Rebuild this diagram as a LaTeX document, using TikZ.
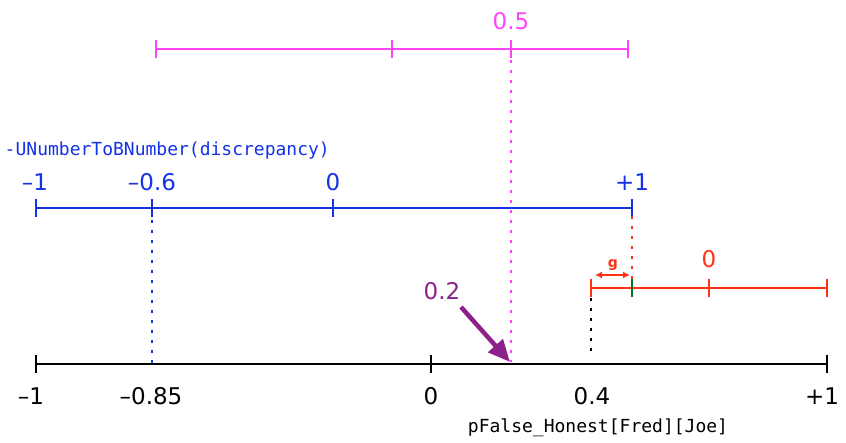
\documentclass[tikz,border=0pt]{standalone}
\usepackage{fontspec}
\setmainfont{DejaVu Sans}
\setmonofont{DejaVu Sans Mono}
\usetikzlibrary{arrows.meta}
\definecolor{axblue}{RGB}{20,50,230}
\definecolor{axmag}{RGB}{255,68,255}
\definecolor{axred}{RGB}{255,50,20}
\definecolor{axgreen}{RGB}{0,120,20}
\definecolor{axpurple}{RGB}{140,34,137}
\begin{document}
\begin{tikzpicture}[x=1pt,y=-1pt, line width=1.5pt,
  num/.style={anchor=base, inner sep=0pt, font=\fontsize{23}{23}\selectfont},
  mono/.style={anchor=base west, inner sep=0pt, font=\ttfamily\fontsize{18}{18}\selectfont},
  dots/.style={line width=2pt, dash pattern=on 3.5pt off 6.5pt}]
\useasboundingbox (0,0) rectangle (846,443);
% black axis
\coordinate (k0) at (36,364); \coordinate (k1) at (827,364);
\draw (k0) -- (k1);
\foreach \x in {36,431,827} \draw (\x,355) -- (\x,373);
\node[num] (kl1) at (31,405) {–1};
\node[num] (kl2) at (151,405) {–0.85};
\node[num] (kl3) at (431,405) {0};
\node[num] (kl4) at (592,405) {0.4};
\node[num] (kl5) at (822,405) {+1};
\node[mono, anchor=base] (kname) at (598,432) {pFalse\_Honest[Fred][Joe]};
% blue axis
\coordinate (b0) at (36,208); \coordinate (b1) at (632,208);
\draw[axblue] (b0) -- (b1);
\foreach \x in {36,152,333,632} \draw[axblue] (\x,199) -- (\x,217);
\node[num, text=axblue] (bl1) at (35,191) {–1};
\node[num, text=axblue] (bl2) at (152,191) {–0.6};
\node[num, text=axblue] (bl3) at (333,191) {0};
\node[num, text=axblue] (bl4) at (632,191) {+1};
\node[mono, text=axblue] (bname) at (4,156) {-UNumberToBNumber(discrepancy)};
\coordinate (bd0) at (152,220); \coordinate (bd1) at (152,364);
\draw[dots, axblue] (bd0) -- (bd1);
% magenta axis
\coordinate (m0) at (156,49); \coordinate (m1) at (628,49);
\draw[axmag] (m0) -- (m1);
\foreach \x in {156,392,511,628} \draw[axmag] (\x,40) -- (\x,58);
\node[num, text=axmag] (ml) at (511,30) {0.5};
\coordinate (md0) at (511,60); \coordinate (md1) at (511,362);
\draw[dots, axmag] (md0) -- (md1);
% red axis
\coordinate (r0) at (591,288); \coordinate (r1) at (827,288);
\draw[axred] (r0) -- (r1);
\foreach \x in {591,709,827} \draw[axred] (\x,279) -- (\x,297);
\draw[axgreen] (632,279) -- (632,297);
\node[num, text=axred] (rl) at (709,268) {0};
\coordinate (rd0) at (632,216); \coordinate (rd1) at (632,279);
\draw[dots, axred] (rd0) -- (rd1);
\coordinate (g0) at (595,275); \coordinate (g1) at (630,275);
\draw[axred, line width=1.2pt, {Latex[length=7pt,width=7pt]}-{Latex[length=7pt,width=7pt]}] (g0) -- (g1);
\node[anchor=base, inner sep=0pt, text=axred, font=\bfseries\fontsize{14}{14}\selectfont] (gl) at (613,268) {g};
% black dotted
\coordinate (kd0) at (591,298); \coordinate (kd1) at (591,358);
\draw[dots] (kd0) -- (kd1);
% purple arrow
\node[num, text=axpurple] (pl) at (442,300) {0.2};
\coordinate (p0) at (461,307); \coordinate (p1) at (510,362);
\draw[axpurple, line width=4.5pt, -{Triangle[length=22pt,width=19pt]}] (p0) -- (p1);
\end{tikzpicture}
\end{document}
